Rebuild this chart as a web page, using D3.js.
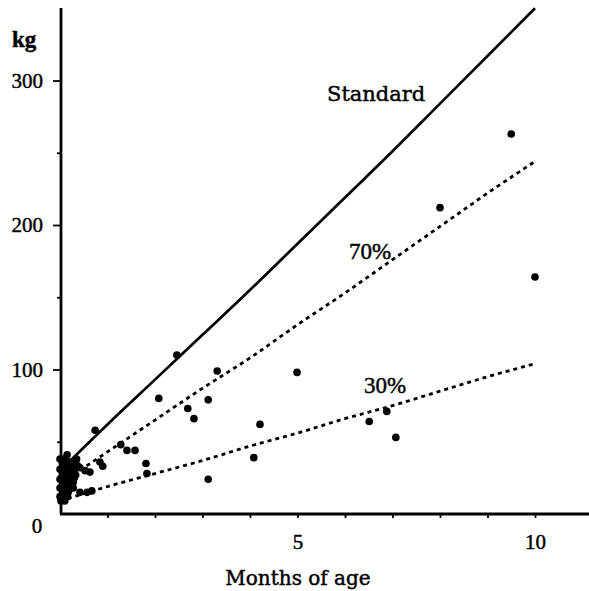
<!DOCTYPE html>
<html><head><meta charset="utf-8">
<script src="https://cdn.jsdelivr.net/npm/d3@7"></script>
<style>body{margin:0;background:#fff}svg{display:block}text{stroke:#000;stroke-width:0.45px}</style>
</head><body>
<svg id="c" width="589" height="591"></svg>
<script>
const months = [0,1,2,3,4,5,6,7,8,9,10];
const standardKg = [30,62,93,124,155,187,219,251,284,317,350];
const pct70Kg   = [21,43,65,87,108,131,153,176,199,222,244];
const pct30Kg   = [9,19,28,37,47,56,66,75,85,95,104];
const dotMonths = [9.5,8.0,10.0,4.99,3.31,2.08,3.12,2.69,2.82,4.21,4.08,3.12,6.51,6.88,7.07,1.28,1.41,1.58,1.81,1.83,0.74,2.46,
  0.84,0.9,0.63,0.53,0.42,0.57,0.67,0.42,0.17,
  0.15,0.25,0.32,0.05,0.1,0.2,0.3,0.05,0.12,0.22,0.3,0.08,0.18,0.28,0.05,0.12,0.22,0.08,0.18,0.05,0.12,0.1,0.03,0.25,0.35,0.15,0.02,0.28,
  0.0,0.0,0.0,0.0,0.0,0.07,0.07,0.07,0.07,0.14,0.14,0.14,0.2,0.2,0.26,0.26,0.33,0.33,0.38,0.02,0.1,0.16];
const dotKg = [263,212,164,98,99,80,79,73,66,62,39,24,64,71,53,48,44,44,35,28,58,110,
  36,33,29,30,32,15,16,15,15,
  41,35,33,35,32,30,30,28,27,26,25,24,23,22,21,20,19,17,16,14,13,11,25,28,38,36,18,18,
  38,31,24,18,12,38,33,21,15,33,25,18,36,24,31,19,27,36,33,9,9,12];
const yMajor = [100,200,300];
const yMinor = [50,150,250];
const xTicks = [1,2,3,4,5,6,7,8,9,10];
const xLabels = [5,10];

const svg = d3.select('#c');
const x = d3.scaleLinear().domain([0,10]).range([60,535]);
const y = d3.scaleLinear().domain([0,350]).range([514,8.25]);
const serifNum = 'Liberation Serif, Times New Roman, serif';
const serifText = 'DejaVu Serif, serif';

svg.append('line').attr('x1',x(0)+1).attr('x2',x(0)+1).attr('y1',y(0)).attr('y2',8)
  .attr('stroke','#000').attr('stroke-width',2.8);
svg.append('line').attr('x1',x(0)).attr('x2',589).attr('y1',y(0)).attr('y2',y(0))
  .attr('stroke','#000').attr('stroke-width',2.8);

const ya = svg.append('g').attr('transform',`translate(${x(0)+1},0)`)
  .call(d3.axisLeft(y).tickValues(yMajor).tickSize(8).tickPadding(10));
ya.select('.domain').remove();
ya.selectAll('line').attr('stroke-width',1.8);
ya.selectAll('text').attr('font-family',serifNum).attr('font-size',21).attr('fill','#000');
const ym = svg.append('g').attr('transform',`translate(${x(0)+1},0)`)
  .call(d3.axisLeft(y).tickValues(yMinor).tickSize(4).tickFormat(''));
ym.select('.domain').remove();
ym.selectAll('line').attr('stroke-width',1.8);

const xa = svg.append('g').attr('transform',`translate(0,${y(0)})`)
  .call(d3.axisBottom(x).tickValues(xTicks).tickSize(4).tickPadding(16)
    .tickFormat(d => xLabels.includes(d) ? d : ''));
xa.select('.domain').remove();
xa.selectAll('line').attr('stroke-width',1.8);
xa.selectAll('text').attr('font-family',serifNum).attr('font-size',21).attr('fill','#000');

svg.append('text').attr('x',37).attr('y',533).attr('text-anchor','middle')
  .attr('font-family',serifNum).attr('font-size',21).text('0');
svg.append('text').attr('x',12).attr('y',47)
  .attr('font-family',serifNum).attr('font-weight','bold').attr('font-size',23).text('kg');
svg.append('text').attr('x',298).attr('y',585).attr('text-anchor','middle')
  .attr('font-family',serifText).attr('font-size',20).text('Months of age');

const line = d3.line().x(d=>x(d[0])).y(d=>y(d[1])).curve(d3.curveMonotoneX);
svg.append('path').attr('d',line(months.map((m,i)=>[m,standardKg[i]])))
  .attr('fill','none').attr('stroke','#000').attr('stroke-width',2.7);
svg.append('path').attr('d',line(months.map((m,i)=>[m,pct70Kg[i]])))
  .attr('fill','none').attr('stroke','#000').attr('stroke-width',2.8).attr('stroke-dasharray','4,4');
svg.append('path').attr('d',line(months.map((m,i)=>[m,pct30Kg[i]])))
  .attr('fill','none').attr('stroke','#000').attr('stroke-width',2.8).attr('stroke-dasharray','4,4');

svg.append('g').selectAll('circle').data(dotMonths.map((m,i)=>[m,dotKg[i]])).join('circle')
  .attr('cx',d=>x(d[0])).attr('cy',d=>y(d[1])).attr('r',3.8).attr('fill','#000');

svg.append('text').attr('x',327).attr('y',101).attr('font-family',serifText).attr('font-size',21).text('Standard');
svg.append('text').attr('x',349).attr('y',259).attr('font-family',serifNum).attr('font-size',23).text('70%');
svg.append('text').attr('x',364).attr('y',393).attr('font-family',serifNum).attr('font-size',23).text('30%');
</script>
</body></html>
